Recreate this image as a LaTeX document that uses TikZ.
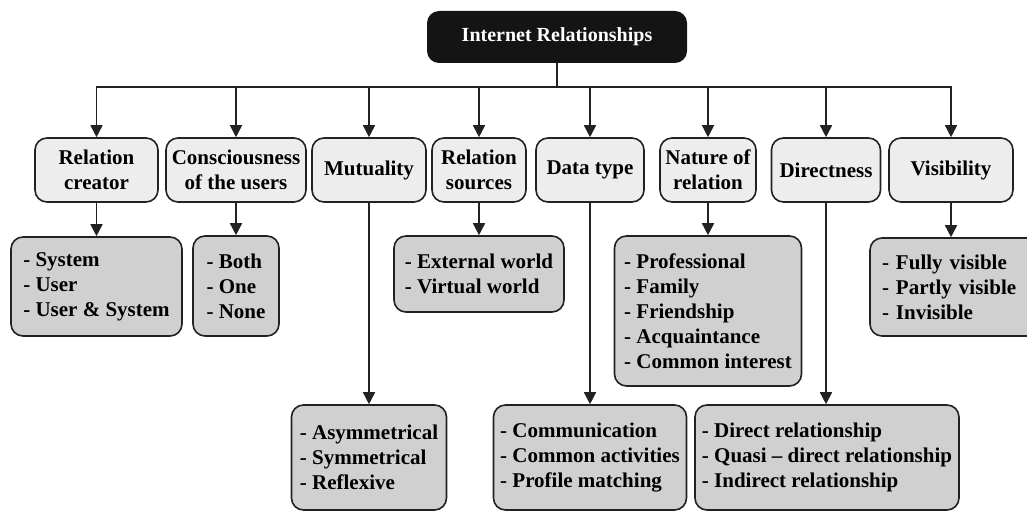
\documentclass[tikz,border=0pt]{standalone}
\usepackage{fontspec}
\setmainfont{Liberation Serif}
\usetikzlibrary{arrows.meta}
\definecolor{catgray}{HTML}{ECEDEC}
\definecolor{leafgray}{HTML}{D0D0D0}
\definecolor{edge}{HTML}{222222}
\tikzstyle{root}=[rectangle,rounded corners=12pt,fill=black!92,text=white,minimum width=260pt,minimum height=52pt,font=\fontsize{20}{24}\selectfont\bfseries]
\tikzstyle{cat}=[rectangle,rounded corners=12pt,draw=edge,line width=1.6pt,fill=catgray,minimum height=64pt,inner sep=2pt,align=center,font=\fontsize{21}{25}\selectfont\bfseries]
\tikzstyle{lf}=[rectangle,rounded corners=12pt,draw=edge,line width=1.6pt,fill=leafgray,inner xsep=3pt,align=left,font=\fontsize{21}{25}\selectfont\bfseries]
\tikzstyle{ln}=[line width=1.6pt,draw=edge]
\tikzstyle{arr}=[ln,-{Triangle[width=12pt,length=12pt]}]

\begin{document}
\begin{tikzpicture}[x=1pt,y=-1pt]
\clip (0,0) rectangle (1027,511);
% root
\node[root] (ir) at (557,37) {Internet Relationships};
% categories
\node[cat,minimum width=123pt] (rc) at (96.5,170) {Relation\\creator};
\node[cat,minimum width=140pt] (cu) at (236,170) {Consciousness\\of the users};
\node[cat,minimum width=114pt] (mu) at (369,170) {Mutuality};
\node[cat,minimum width=94pt] (rs) at (479,170) {Relation\\sources};
\node[cat,minimum width=108pt] (dt) at (590,170) {Data type};
\node[cat,minimum width=96pt] (nr) at (708,170) {Nature of\\relation};
\node[cat,minimum width=109pt] (di) at (826,170) {Directness};
\node[cat,minimum width=124pt] (vi) at (951,170) {Visibility};
% leaves
\node[lf,minimum width=171pt,minimum height=99pt] (rcl) at (96.5,286.5) {- System\\- User\\- User \& System};
\node[lf,minimum width=86pt,minimum height=100pt] (cul) at (236,286) {- Both\\- One\\- None};
\node[lf,minimum width=170pt,minimum height=76pt] (rsl) at (479,274) {- External world\\- Virtual world};
\node[lf,minimum width=187pt,minimum height=150pt] (nrl) at (708,311) {- Professional\\- Family\\- Friendship\\- Acquaintance\\- Common interest};
\node[lf,text width=150pt,inner xsep=12pt,minimum height=98pt] (vil) at (957,287) {- Fully visible\\- Partly visible\\- Invisible};
\node[lf,minimum width=155pt,minimum height=105pt] (mul) at (369,457.5) {- Asymmetrical\\- Symmetrical\\- Reflexive};
\node[lf,minimum width=193pt,minimum height=105pt] (dtl) at (590,457.5) {- Communication\\- Common activities\\- Profile matching};
\node[lf,minimum width=264pt,minimum height=105pt] (dil) at (827,457.5) {- Direct relationship\\- Quasi -- direct relationship\\- Indirect relationship};
% connectors
\coordinate (bus) at (557,87);
\draw[ln] (ir) -- (bus);
\draw[arr] (bus) -| (rc);
\draw[arr] (bus) -| (cu);
\draw[arr] (bus) -| (mu);
\draw[arr] (bus) -| (rs);
\draw[arr] (bus) -| (dt);
\draw[arr] (bus) -| (nr);
\draw[arr] (bus) -| (di);
\draw[arr] (bus) -| (vi);
\draw[arr] (rc) -- (rc |- rcl.north);
\draw[arr] (cu) -- (cu |- cul.north);
\draw[arr] (mu) -- (mu |- mul.north);
\draw[arr] (rs) -- (rs |- rsl.north);
\draw[arr] (dt) -- (dt |- dtl.north);
\draw[arr] (nr) -- (nr |- nrl.north);
\draw[arr] (di) -- (di |- dil.north);
\draw[arr] (vi) -- (vi |- vil.north);
\end{tikzpicture}
\end{document}
